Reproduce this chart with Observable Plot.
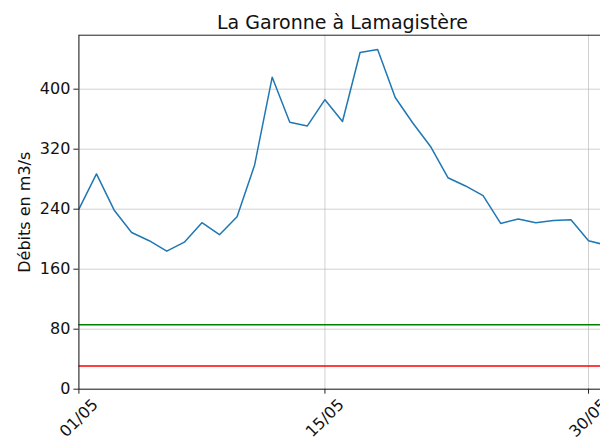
<!DOCTYPE html>
<html><head><meta charset="utf-8">
<script src="https://cdn.jsdelivr.net/npm/d3@7"></script>
<script src="https://cdn.jsdelivr.net/npm/@observablehq/plot@0.6"></script>
<style>
html,body{margin:0;padding:0;background:#fff;overflow:hidden;width:600px;height:438px}
#chart{width:600px;height:438px;overflow:hidden}
</style>
</head><body><div id="chart"></div>
<script>
const days = [1,2,3,4,5,6,7,8,9,10,11,12,13,14,15,16,17,18,19,20,21,22,23,24,25,26,27,28,29,30,31];
const debits = [240,287,239,209,198,184,196,222,206,230,299,416,356,351,386,357,449,453,389,355,324,282,271,258,221,227,222,225,226,198,192];
const seuilVert = [86];
const seuilRouge = [31];
const yTicks = [0,80,160,240,320,400];
const xTickDays = [1,15,30];
const xTickLabels = ["01/05","15/05","30/05"];
const title = "La Garonne à Lamagistère";
const yLabel = "Débits en m3/s";

const toDate = d => new Date(Date.UTC(2024, 4, d));
const data = days.map((d, i) => ({date: toDate(d), q: debits[i]}));
const ticks = xTickDays.map((d, i) => ({date: toDate(d), label: xTickLabels[i]}));

const chart = Plot.plot({
  width: 640,
  height: 438,
  marginLeft: 78.4,
  marginRight: 34.4,
  marginTop: 34.7,
  marginBottom: 49.3,
  style: "max-width:none;font-family:'DejaVu Sans';background:#fff;overflow:visible",
  x: {type: "utc", domain: [toDate(1), toDate(31)], axis: null},
  y: {domain: [0, 472], axis: null},
  marks: [
    Plot.gridX(ticks.map(t => t.date), {stroke: "#b0b0b0", strokeOpacity: 0.6, strokeWidth: 1}),
    Plot.gridY(yTicks, {stroke: "#b0b0b0", strokeOpacity: 0.6, strokeWidth: 1}),
    Plot.ruleY(seuilVert, {stroke: "green", strokeWidth: 1.5}),
    Plot.ruleY(seuilRouge, {stroke: "red", strokeWidth: 1.5}),
    Plot.line(data, {x: "date", y: "q", stroke: "#1f77b4", strokeWidth: 1.5}),
    Plot.frame({stroke: "#222", strokeWidth: 1}),
    Plot.axisY(yTicks, {tickSize: 5, tickPadding: 3.5, fontSize: 16, label: null, stroke: "#222", fill: "#111"}),
    Plot.axisX(ticks.map(t => t.date), {tickSize: 5, tickFormat: () => "", label: null, stroke: "#222"}),
    Plot.text(ticks, {x: "date", text: "label", frameAnchor: "bottom", rotate: -45, textAnchor: "middle", lineAnchor: "middle", dy: 29, fontSize: 16, fill: "#111"}),
    Plot.text([title], {frameAnchor: "top", lineAnchor: "bottom", dy: -6, fontSize: 19, fill: "#111"}),
    Plot.text([yLabel], {frameAnchor: "left", rotate: -90, textAnchor: "middle", lineAnchor: "middle", dx: -54.4, fontSize: 16, fill: "#111"})
  ]
});
document.getElementById("chart").appendChild(chart);
</script>
</body></html>
